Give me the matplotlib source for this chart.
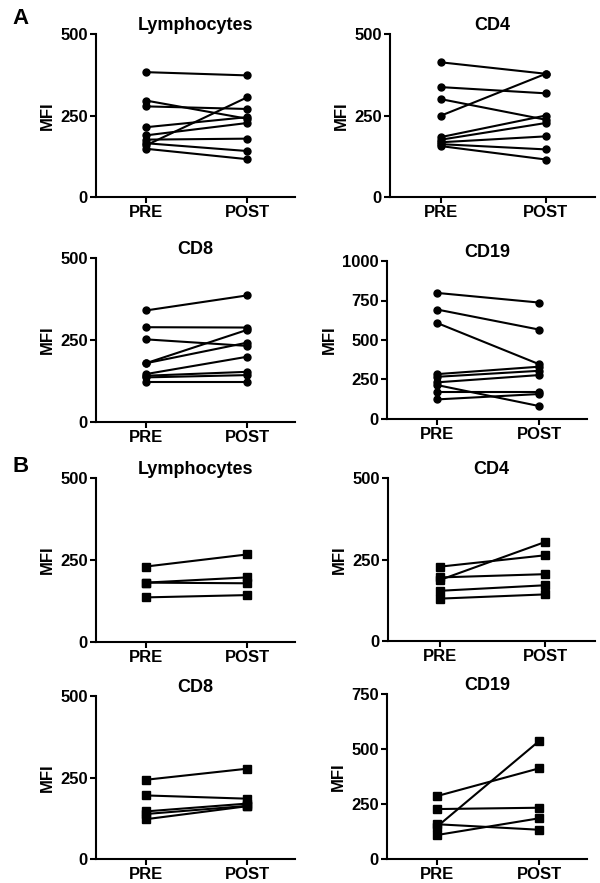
import matplotlib
matplotlib.use("Agg")
import matplotlib.pyplot as plt

plt.rcParams['font.family'] = ['Liberation Sans', 'DejaVu Sans']
plt.rcParams['font.weight'] = 'bold'

## Data ##
groups = ['PRE', 'POST']

# Panel A (circles)
a_lym_pre = [383, 296, 278, 214, 189, 176, 165, 158, 148]
a_lym_post = [373, 240, 270, 245, 227, 179, 141, 306, 116]
a_cd4_pre = [413, 337, 300, 250, 184, 176, 168, 162, 156]
a_cd4_post = [378, 318, 237, 378, 250, 227, 186, 146, 115]
a_cd8_pre = [340, 289, 252, 179, 179, 146, 141, 136, 122]
a_cd8_post = [386, 288, 232, 281, 242, 199, 153, 143, 122]
a_cd19_pre = [798, 693, 608, 284, 267, 232, 215, 168, 124]
a_cd19_post = [737, 566, 347, 331, 305, 278, 82, 168, 158]

# Panel B (squares)
b_lym_pre = [230, 181, 181, 136]
b_lym_post = [267, 197, 179, 143]
b_cd4_pre = [228, 187, 195, 154, 130]
b_cd4_post = [263, 304, 205, 171, 143]
b_cd8_pre = [243, 195, 146, 138, 122]
b_cd8_post = [277, 185, 170, 163, 162]
b_cd19_pre = [286, 227, 147, 158, 109]
b_cd19_post = [412, 233, 536, 133, 185]

fig = plt.figure(figsize=(6, 8.83), dpi=100)
W, H = 600.0, 883.0

def make_axes(left, right, bottom, top):
    # pixel box -> figure fraction
    return fig.add_axes([left / W, 1 - bottom / H, (right - left) / W, (bottom - top) / H])

def panel(ax, title, pre, post, ymax, yticks, marker, ms):
    for p, q in zip(pre, post):
        ax.plot([0, 1], [p, q], color='black', lw=1.5, marker=marker,
                ms=ms, mfc='black', mec='black', clip_on=False)
    ax.set_xlim(-0.49, 1.47)
    ax.set_ylim(0, ymax)
    ax.set_yticks(yticks)
    ax.set_xticks([0, 1])
    ax.set_xticklabels(groups, fontsize=12, fontweight='bold')
    for lab in ax.get_yticklabels():
        lab.set_fontsize(12)
        lab.set_fontweight('bold')
    ax.set_title(title, fontsize=13, fontweight='bold', pad=2)
    ax.set_ylabel('MFI', fontsize=12, fontweight='bold', labelpad=4)
    ax.spines['top'].set_visible(False)
    ax.spines['right'].set_visible(False)
    ax.spines['left'].set_linewidth(1.5)
    ax.spines['bottom'].set_linewidth(1.5)
    ax.tick_params(width=1.5, length=4, pad=2)

#Panel A
ax = make_axes(96, 295, 197, 34)
panel(ax, 'Lymphocytes', a_lym_pre, a_lym_post, 500, [0, 250, 500], 'o', 5)
ax = make_axes(390, 595, 197, 34)
panel(ax, 'CD4', a_cd4_pre, a_cd4_post, 500, [0, 250, 500], 'o', 5)
ax = make_axes(96, 295, 422, 258)
panel(ax, 'CD8', a_cd8_pre, a_cd8_post, 500, [0, 250, 500], 'o', 5)
ax = make_axes(387, 587, 419, 261)
panel(ax, 'CD19', a_cd19_pre, a_cd19_post, 1000, [0, 250, 500, 750, 1000], 'o', 5)

#Panel B
ax = make_axes(96, 295, 642, 478)
panel(ax, 'Lymphocytes', b_lym_pre, b_lym_post, 500, [0, 250, 500], 's', 5.5)
ax = make_axes(388, 595, 641, 478)
panel(ax, 'CD4', b_cd4_pre, b_cd4_post, 500, [0, 250, 500], 's', 5.5)
ax = make_axes(96, 295, 859, 696)
panel(ax, 'CD8', b_cd8_pre, b_cd8_post, 500, [0, 250, 500], 's', 5.5)
ax = make_axes(387, 587, 859, 694)
panel(ax, 'CD19', b_cd19_pre, b_cd19_post, 750, [0, 250, 500, 750], 's', 5.5)

fig.text(12 / W, 1 - 19 / H, 'A', fontsize=16, fontweight='bold', va='center')
fig.text(12 / W, 1 - 466 / H, 'B', fontsize=16, fontweight='bold', va='center')

fig.savefig('out.png', dpi=100)
